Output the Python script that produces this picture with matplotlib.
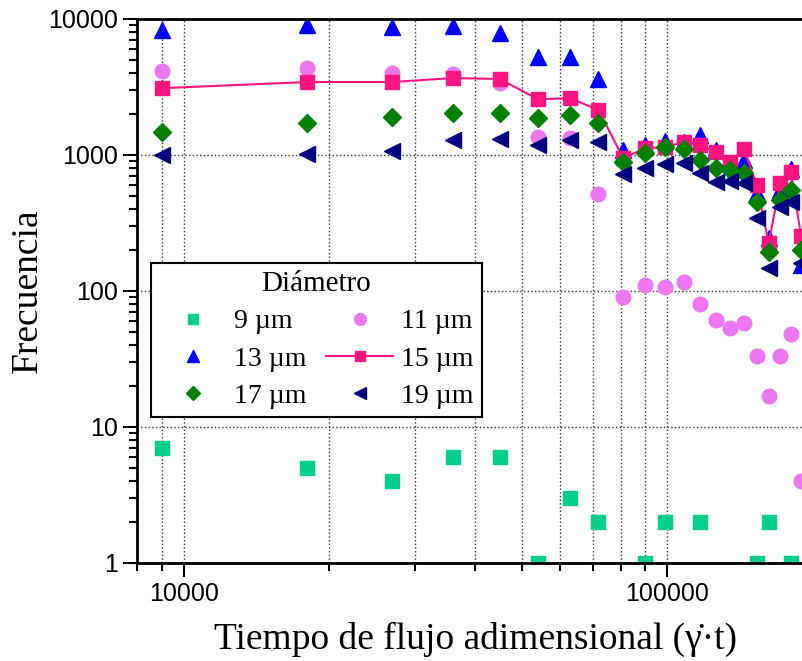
import numpy as np
from matplotlib import pyplot as plt
from matplotlib.ticker import FixedLocator, NullFormatter, FuncFormatter

nan = np.nan
tiempo = [9000, 18000, 27000, 36000, 45000, 54000, 63000, 72000, 81000, 90000,
          99000, 108000, 117000, 126000, 135000, 144000, 153000, 162000,
          171000, 180000, 189000]
d9 = [7, 5, 4, 6, 6, 1, 3, 2, nan, 1, 2, nan, 2, nan, nan, nan, 1, 2, nan, 1, nan]
d11 = [4150, 4360, 4000, 3950, 3380, 1350, 1330, 515, 90, 111, 107, 116, 80,
       61, 53, 58, 33, 17, 33, 48, 4]
d13 = [8300, 9000, 8700, 8900, 7900, 5250, 5250, 3600, 1090, 1180, 1270, 1250,
       1400, 1090, 880, 920, 525, 245, 555, 790, 155]
d15 = [3100, 3440, 3440, 3680, 3620, 2570, 2620, 2140, 950, 1120, 1140, 1250,
       1180, 1050, 890, 1100, 600, 225, 620, 750, 253]
d17 = [1475, 1720, 1900, 2030, 2030, 1870, 1970, 1720, 890, 1030, 1140, 1100,
       920, 800, 780, 740, 450, 194, 465, 550, 200]
d19 = [1000, 1010, 1070, 1290, 1310, 1180, 1290, 1250, 720, 800, 860, 870,
       735, 630, 640, 620, 345, 148, 415, 450, 160]

series = [
    ('9 µm', d9, 's', '#00D08C', None),
    ('11 µm', d11, 'o', '#EE77F2', None),
    ('13 µm', d13, '^', '#0000FF', None),
    ('15 µm', d15, 's', '#FF1482', '-'),
    ('17 µm', d17, 'D', '#008000', None),
    ('19 µm', d19, '<', '#000080', None),
]

plt.rcParams['font.family'] = ['Liberation Sans', 'DejaVu Sans']
serif = ['Liberation Serif', 'DejaVu Serif']

fig = plt.figure(figsize=(8.02, 6.61), dpi=100)
ax = fig.add_axes([137 / 802, 98 / 661, 676 / 802, 544 / 661])

sizes = {'s': 9.5, 'o': 10.5, '^': 11, 'D': 9.5, '<': 11}
handles = []
for label, vals, mk, col, ls in series:
    h, = ax.plot(tiempo, vals, marker=mk, ms=sizes[mk], color=col, mec=col,
                 ls=ls if ls else 'none', lw=1.5, label=label)
    handles.append(h)

ax.set_xscale('log')
ax.set_yscale('log')
ax.set_xlim(8000, 200000)
ax.set_ylim(1, 10000)

ax.xaxis.set_major_locator(FixedLocator([10000, 100000]))
ax.xaxis.set_minor_locator(FixedLocator([8000, 9000] + [k * 10000 for k in range(2, 10)] + [200000]))
ax.yaxis.set_major_locator(FixedLocator([1, 10, 100, 1000, 10000]))
ax.yaxis.set_minor_locator(FixedLocator([m * 10 ** e for e in range(0, 4) for m in range(2, 10)]))
fmt = FuncFormatter(lambda v, p: f'{int(v)}')
ax.xaxis.set_major_formatter(fmt)
ax.yaxis.set_major_formatter(fmt)
ax.xaxis.set_minor_formatter(NullFormatter())
ax.yaxis.set_minor_formatter(NullFormatter())

ax.tick_params(which='major', length=10, width=1.5, labelsize=18, direction='out')
ax.tick_params(which='minor', length=6, width=1.5, direction='out')
ax.tick_params(axis='x', which='major', pad=4)
ax.tick_params(axis='y', which='major', pad=4)
for s in ax.spines.values():
    s.set_linewidth(2)

ax.grid(True, axis='x', which='both', ls=':', lw=1, color='#333333')
ax.grid(True, axis='y', which='major', ls=':', lw=1, color='#333333')
ax.set_axisbelow(True)

ax.set_xlabel('Tiempo de flujo adimensional (\u03b3\u0307\u00b7t)', family=serif,
              fontsize=27, labelpad=11)
ax.set_ylabel('Frecuencia', family=serif, fontsize=27, labelpad=2)

# row-wise order like the original legend
order = [0, 2, 4, 1, 3, 5]
leg = ax.legend([handles[i] for i in order], [series[i][0] for i in order],
                ncol=2, title='Diámetro', loc='lower left',
                bbox_to_anchor=(151 / 802, 244 / 661), bbox_transform=fig.transFigure,
                prop={'family': serif, 'size': 20},
                title_fontproperties={'family': serif, 'size': 21},
                frameon=True, fancybox=False, edgecolor='black', framealpha=1,
                markerscale=0.8, handlelength=2.4, handletextpad=0.3,
                columnspacing=0.7, labelspacing=0.42, borderpad=0.3,
                borderaxespad=0)
leg.get_frame().set_linewidth(1.5)

fig.savefig('out.png', dpi=100)
